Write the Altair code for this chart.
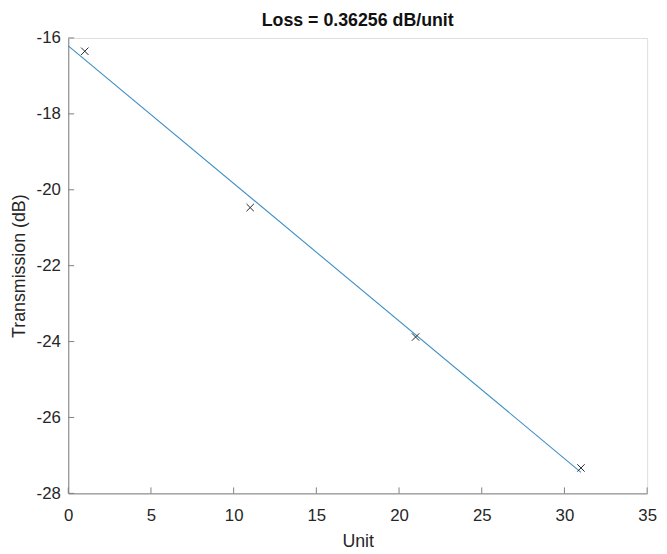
import altair as alt
import pandas as pd

# measured data
unit = [1, 11, 21, 31]
transmission = [-16.35, -20.47, -23.88, -27.33]

# linear fit endpoints (Loss = 0.36256 dB/unit)
fit_x = [0, 31]
fit_y = [-16.207, -27.446]

x_ticks = [0, 5, 10, 15, 20, 25, 30, 35]
y_ticks = [-28, -26, -24, -22, -20, -18, -16]

W, H = 586, 461
FONT = "Liberation Sans"
TXT = "#262626"
AX = "#808080"
LBL = "replace(datum.label, '\u2212', '-')"

pts = pd.DataFrame({"Unit": unit, "T": transmission})
fit = pd.DataFrame({"Unit": fit_x, "T": fit_y})
xt = pd.DataFrame({"v": x_ticks})
yt = pd.DataFrame({"v": y_ticks})

xs = alt.Scale(domain=[0, 35], nice=False, zero=False)
ys = alt.Scale(domain=[-28, -16], nice=False, zero=False)

xaxis = alt.Axis(values=x_ticks, title="Unit", grid=False, tickSize=0,
                 domainColor=AX, labelColor=TXT, titleColor=TXT,
                 labelFont=FONT, titleFont=FONT, labelFontSize=17,
                 titleFontSize=18, titleFontWeight="normal",
                 labelPadding=14, titlePadding=10, labelFlush=False,
                 labelExpr=LBL)
yaxis = alt.Axis(values=y_ticks, title="Transmission (dB)", grid=False,
                 tickSize=0, domainColor=AX, labelColor=TXT, titleColor=TXT,
                 labelFont=FONT, titleFont=FONT, labelFontSize=17,
                 titleFontSize=18, titleFontWeight="normal",
                 labelPadding=8, titlePadding=8, labelFlush=False,
                 labelExpr=LBL)

line = alt.Chart(fit).mark_line(color="#3d8fc6", strokeWidth=1.1).encode(
    x=alt.X("Unit:Q", scale=xs, axis=xaxis),
    y=alt.Y("T:Q", scale=ys, axis=yaxis),
)

points = alt.Chart(pts).mark_point(
    shape="M-1,-1L1,1M1,-1L-1,1", filled=False, color="#262626",
    size=56, strokeWidth=1.0, opacity=1,
).encode(
    x=alt.X("Unit:Q", scale=xs),
    y=alt.Y("T:Q", scale=ys),
)

xticks = alt.Chart(xt).mark_rule(color=AX, strokeWidth=1).encode(
    x=alt.X("v:Q", scale=xs),
    y=alt.value(H),
    y2=alt.value(H - 6),
)
yticks = alt.Chart(yt).mark_rule(color=AX, strokeWidth=1).encode(
    y=alt.Y("v:Q", scale=ys),
    x=alt.value(0),
    x2=alt.value(6),
)

chart = alt.layer(xticks, yticks, line, points).properties(
    width=W, height=H,
    title=alt.TitleParams("Loss = 0.36256 dB/unit", font=FONT, fontSize=18,
                          fontWeight="bold", color="#111111", anchor="middle",
                          frame="group", offset=8, dy=9),
    autosize=alt.AutoSizeParams(type="none"),
    padding={"left": 61, "top": 27, "right": 12, "bottom": 54},
).configure_view(stroke=None).configure(background="white")

chart.save("out.html", embed_options={"renderer": "svg", "actions": False})
